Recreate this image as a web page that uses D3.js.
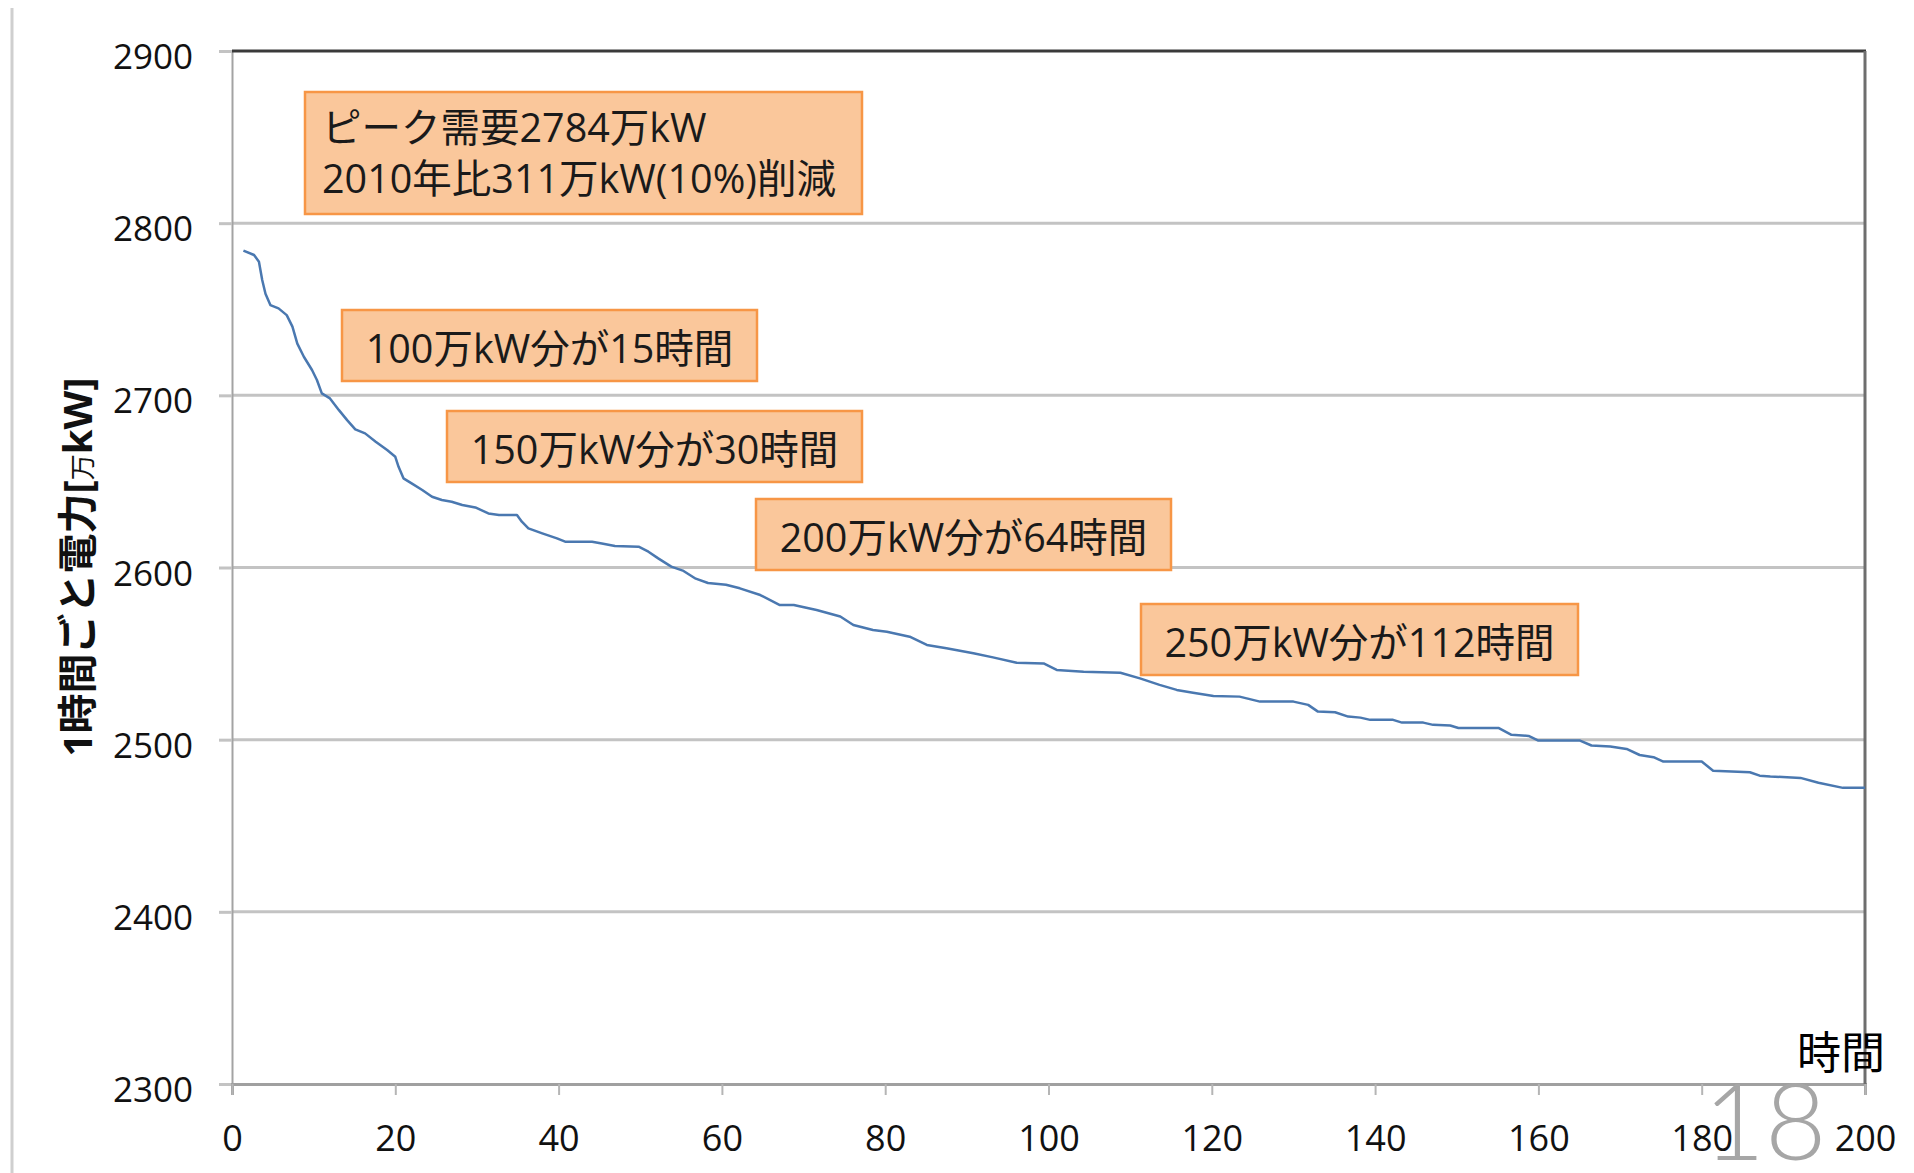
<!DOCTYPE html>
<html lang="ja">
<head>
<meta charset="utf-8">
<script src="https://cdn.jsdelivr.net/npm/d3@7"></script>
<style>
  html, body { margin: 0; padding: 0; background: #fff; }
  svg { display: block; }
  .tick text { font-family: "Open Sans", "Noto Sans CJK JP", sans-serif; fill: #111; }
</style>
</head>
<body>
<svg id="chart" width="1914" height="1173"></svg>
<script>
// Load duration curve: hourly demand sorted from the peak hour downward
const hours = [1.4, 2.7, 3.3, 3.7, 4.1, 4.7, 5.7, 6.7, 7.4, 8.0, 8.8, 9.8, 10.4, 11.0, 12.0, 13.1, 14.1, 15.1, 16.3, 17.6,
  19.0, 20.0, 20.4, 21.0, 22.0, 23.3, 24.5, 25.7, 26.9, 28.2, 29.8, 31.4, 32.7, 34.9, 35.5, 36.3, 38.0, 39.8, 40.8, 44.1,
  45.3, 46.9, 49.8, 51.0, 52.2, 53.8, 55.3, 56.8, 58.3, 60.5, 62.2, 64.7, 67.1, 68.8, 71.6, 74.5, 76.1, 78.5, 80.2, 83.0,
  85.1, 87.5, 90.8, 93.2, 96.1, 99.4, 101.0, 104.3, 108.8, 111.2, 113.6, 115.7, 117.7, 120.2, 123.4, 125.9, 130.0, 131.8, 133.0, 135.1,
  136.7, 138.2, 139.4, 142.2, 143.3, 145.9, 147.1, 149.2, 150.2, 155.1, 156.7, 158.8, 160.0, 165.1, 166.5, 168.8, 170.8, 172.4, 174.1, 175.3,
  180.0, 181.4, 185.9, 187.1, 188.4, 192.1, 194.3, 197.3, 200.0];
const demand = [2784, 2781.5, 2777.6, 2767, 2759, 2752.4, 2750.5, 2746.6, 2739.9, 2730, 2722.4, 2714.7, 2708.9, 2701.1, 2698.2, 2691.4, 2685.6, 2680.2, 2677.9, 2673.1,
  2668.2, 2664.3, 2658.5, 2651.8, 2648.9, 2645, 2641.1, 2639.2, 2638.2, 2636.3, 2634.9, 2631.4, 2630.5, 2630.5, 2626.6, 2622.7, 2619.8, 2616.9, 2615, 2615,
  2614, 2612.5, 2612.1, 2609.2, 2605.3, 2600.5, 2598, 2593.5, 2591, 2590, 2587.9, 2584, 2578.2, 2578.2, 2575.3, 2571.5, 2566.6, 2563.7, 2562.7, 2559.8,
  2555, 2553.1, 2550.2, 2547.8, 2544.7, 2544.3, 2540.5, 2539.5, 2538.9, 2535.6, 2531.8, 2528.9, 2527.3, 2525.4, 2525, 2522.1, 2522.1, 2520.2, 2516.3, 2515.9,
  2513.4, 2512.8, 2511.5, 2511.5, 2509.9, 2509.9, 2508.6, 2508.2, 2506.8, 2506.8, 2502.8, 2502.2, 2499.5, 2499.5, 2496.6, 2496, 2494.6, 2491.1, 2489.8, 2487.3,
  2487.3, 2482, 2481.1, 2479.1, 2478.6, 2477.8, 2475, 2472, 2472];

const yTicks = [2300, 2400, 2500, 2600, 2700, 2800, 2900];
const xTicks = [0, 20, 40, 60, 80, 100, 120, 140, 160, 180, 200];

const yTitle = ["1時間ごと電力[", "万", "kW]"];
const xTitle = "時間";
const pageNo = "18";

// Callout texts (one entry per box, lines within)
const notes = [
  ["ピーク需要2784万kW", "2010年比311万kW(10%)削減"],
  ["100万kW分が15時間"],
  ["150万kW分が30時間"],
  ["200万kW分が64時間"],
  ["250万kW分が112時間"]
];
// Callout box placement in pixels: [left, top, width, height]
const noteBoxes = [
  [305, 92, 557, 122],
  [342, 310, 415, 71],
  [447, 411, 415, 71],
  [756, 499, 415, 71],
  [1141, 604, 437, 71]
];

const svg = d3.select("#chart");
const m = { left: 232, right: 1865, top: 51, bottom: 1084 };

const x = d3.scaleLinear().domain([0, 200]).range([m.left, m.right]);
const y = d3.scaleLinear().domain([2300, 2900]).range([m.bottom, m.top]);

// thin rule at the far left of the page
svg.append("line")
  .attr("x1", 12).attr("x2", 12).attr("y1", 8).attr("y2", 1173)
  .attr("stroke", "#cfcfcf").attr("stroke-width", 3);

// horizontal gridlines
svg.append("g")
  .selectAll("line")
  .data(yTicks.filter(d => d !== 2300 && d !== 2900))
  .join("line")
  .attr("x1", m.left).attr("x2", m.right)
  .attr("y1", d => y(d)).attr("y2", d => y(d))
  .attr("stroke", "#c3c3c3").attr("stroke-width", 3);

// y axis
const yAxis = svg.append("g")
  .attr("transform", `translate(${m.left},0)`)
  .call(d3.axisLeft(y).tickValues(yTicks).tickSize(13).tickPadding(26).tickFormat(d3.format("d")));
yAxis.select(".domain").attr("stroke", "#a3a3a3").attr("stroke-width", 2);
yAxis.selectAll(".tick line").attr("stroke", "#c3c3c3").attr("stroke-width", 3);
yAxis.selectAll(".tick text").attr("font-size", 35).attr("dy", "0.5em");

// x axis
const xAxis = svg.append("g")
  .attr("transform", `translate(0,${m.bottom})`)
  .call(d3.axisBottom(x).tickValues(xTicks).tickSize(11).tickPadding(30).tickFormat(d3.format("d")));
xAxis.select(".domain").attr("stroke", "#a0a0a0").attr("stroke-width", 3);
xAxis.selectAll(".tick line").attr("stroke", "#b5b5b5").attr("stroke-width", 2);
xAxis.selectAll(".tick text").attr("font-size", 36);

// frame: top and right edges
svg.append("line")
  .attr("x1", m.left).attr("x2", m.right + 1)
  .attr("y1", y(2900)).attr("y2", y(2900))
  .attr("stroke", "#3a3a3a").attr("stroke-width", 3);
svg.append("line")
  .attr("x1", m.right).attr("x2", m.right)
  .attr("y1", y(2900)).attr("y2", m.bottom)
  .attr("stroke", "#6e6e6e").attr("stroke-width", 3);

// demand curve
const pts = hours.map((h, i) => [h, demand[i]]);
svg.append("path")
  .datum(pts)
  .attr("fill", "none")
  .attr("stroke", "#4a78b0")
  .attr("stroke-width", 2.5)
  .attr("stroke-linejoin", "round")
  .attr("d", d3.line().x(d => x(d[0])).y(d => y(d[1])));

// callout boxes
const fontStack = '"Open Sans", "Noto Sans CJK JP", sans-serif';
notes.forEach((lines, i) => {
  const [bx, by, bw, bh] = noteBoxes[i];
  const g = svg.append("g");
  g.append("rect")
    .attr("x", bx).attr("y", by).attr("width", bw).attr("height", bh)
    .attr("fill", "#fac79b").attr("stroke", "#f79646").attr("stroke-width", 2.5);
  if (lines.length === 1) {
    g.append("text")
      .attr("x", bx + bw / 2).attr("y", by + 53)
      .attr("text-anchor", "middle")
      .attr("font-family", fontStack).attr("font-size", 39.5).attr("fill", "#1a1a1a")
      .text(lines[0]);
  } else {
    lines.forEach((t, j) => {
      g.append("text")
        .attr("x", bx + 17).attr("y", by + 50 + j * 51)
        .attr("font-family", fontStack).attr("font-size", 39.5).attr("fill", "#1a1a1a")
        .text(t);
    });
  }
});

// y axis title (rotated)
const yt = svg.append("text")
  .attr("transform", "translate(92,567) rotate(-90)")
  .attr("text-anchor", "middle")
  .attr("font-family", fontStack).attr("font-weight", 700)
  .attr("font-size", 40).attr("fill", "#111");
yt.append("tspan").text(yTitle[0]);
yt.append("tspan").attr("font-size", 26).attr("font-weight", 400).text(yTitle[1]);
yt.append("tspan").text(yTitle[2]);

// x axis title
svg.append("text")
  .attr("x", 1797).attr("y", 1069)
  .attr("font-family", '"Noto Sans CJK JP", sans-serif')
  .attr("font-size", 44).attr("fill", "#000")
  .text(xTitle);

// page number
svg.append("text")
  .attr("x", 1765).attr("y", 1160)
  .attr("text-anchor", "middle")
  .attr("font-family", "Lato, Roboto, sans-serif").attr("font-weight", 300)
  .attr("font-size", 106).attr("fill", "#a6a6a6")
  .text(pageNo);
</script>
</body>
</html>
